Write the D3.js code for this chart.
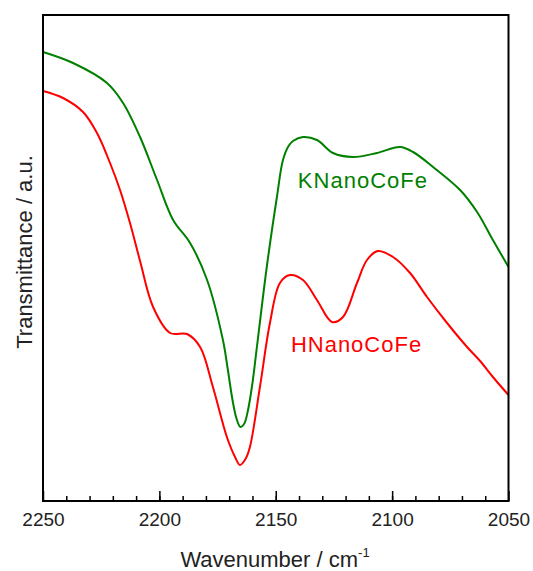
<!DOCTYPE html>
<html>
<head>
<meta charset="utf-8">
<script src="https://cdn.jsdelivr.net/npm/d3@7"></script>
<style>
  body { margin: 0; background: #fff; }
  svg { font-family: "Liberation Sans", Arial, sans-serif; }
</style>
</head>
<body>
<div id="graph-area"></div>
<script>
// wavenumber (cm-1) and transmittance (a.u.)
var kWave = [2250, 2237.1, 2222.5, 2215.6, 2208.3, 2201.0, 2194.1, 2186.8, 2179.5, 2172.7, 2170.5, 2168.5,
             2166.8, 2165.2, 2163.6, 2162.0, 2160.0, 2158.1, 2153.8, 2149.5, 2146.9, 2144.5, 2142.6, 2138.3,
             2132.3, 2125.4, 2116.8, 2106.5, 2096.6, 2091.0, 2082.4, 2070.8, 2063.5, 2056.7, 2050];
var kTrans = [449, 438, 418, 398, 364, 321, 281, 258, 221, 161, 130, 100,
              82, 74, 77, 90, 118, 154, 235, 304, 341, 355, 360, 364,
              361, 348, 344, 348, 354, 349, 334, 311, 289, 261, 234];

var hWave = [2250, 2241.4, 2232.8, 2226.8, 2221.2, 2216.9, 2212.5, 2208.3, 2202.7, 2195.4, 2188.1,
             2182.5, 2177.0, 2171.0, 2167.5, 2165.4, 2163.0, 2161.1, 2156.8, 2152.5, 2148.2, 2143.9, 2138.3,
             2132.3, 2125.8, 2121.1, 2115.1, 2110.8, 2106.1, 2099.6, 2092.3, 2085.0, 2076.4, 2067.8, 2062.2,
             2056.7, 2050];
var hTrans = [410, 403, 389, 368, 338, 311, 277, 240, 194, 168, 167,
              154, 114, 64, 44, 36, 42, 54, 114, 178, 218, 226, 221,
              201, 179, 184, 218, 241, 250, 244, 228, 204, 178, 154, 140,
              124, 106];

var xTicks = [2250, 2200, 2150, 2100, 2050];
var minorTicks = d3.range(2240, 2050, -10);

var width = 533, height = 571;
var margin = {top: 15, right: 24.5, bottom: 70, left: 43};
var w = width - margin.left - margin.right;
var h = height - margin.top - margin.bottom;

var svg = d3.select("#graph-area")
    .append("svg")
    .attr("width", width)
    .attr("height", height);

var g = svg.append("g")
    .attr("transform", "translate(" + margin.left + "," + margin.top + ")");

var x = d3.scaleLinear().domain([2250, 2050]).range([0, w]);
var y = d3.scaleLinear().domain([0, 486]).range([h, 0]);

// minor ticks
g.append("g")
    .attr("transform", "translate(0," + h + ")")
    .call(d3.axisBottom(x).tickValues(minorTicks).tickSize(-5).tickFormat(""))
    .call(function(a) { a.select(".domain").remove(); })
    .selectAll("line").attr("stroke", "#000").attr("stroke-width", 1.5);

// major ticks + labels
var xAxis = g.append("g")
    .attr("transform", "translate(0," + h + ")")
    .call(d3.axisBottom(x).tickValues(xTicks).tickSize(-10).tickPadding(12).tickFormat(d3.format("d")));
xAxis.select(".domain").remove();
xAxis.selectAll("line").attr("stroke", "#000").attr("stroke-width", 1.5);
xAxis.selectAll("text")
    .attr("fill", "#222")
    .style("font-size", "19px")
    .style("font-family", "'Liberation Sans', Arial, sans-serif");

var line = d3.line()
    .x(function(d) { return x(d[0]); })
    .y(function(d) { return y(d[1]); })
    .curve(d3.curveCatmullRom.alpha(0.5));

g.append("path")
    .datum(d3.zip(hWave, hTrans))
    .attr("d", line)
    .attr("fill", "none")
    .attr("stroke", "#ff0000")
    .attr("stroke-width", 2);

g.append("path")
    .datum(d3.zip(kWave, kTrans))
    .attr("d", line)
    .attr("fill", "none")
    .attr("stroke", "#008000")
    .attr("stroke-width", 2);

// frame
g.append("rect")
    .attr("x", 0).attr("y", 0)
    .attr("width", w).attr("height", h)
    .attr("fill", "none")
    .attr("stroke", "#000")
    .attr("stroke-width", 2);

g.append("text")
    .attr("x", x(2140.5))
    .attr("y", y(313))
    .attr("fill", "#008000")
    .attr("letter-spacing", 1)
    .style("font-size", "22px")
    .text("KNanoCoFe");

g.append("text")
    .attr("x", x(2143.5))
    .attr("y", y(149))
    .attr("fill", "#ff0000")
    .attr("letter-spacing", 1)
    .style("font-size", "22px")
    .text("HNanoCoFe");

// axis titles
var xt = svg.append("text")
    .attr("x", 275)
    .attr("y", 567)
    .attr("text-anchor", "middle")
    .attr("fill", "#222")
    .style("font-size", "22px");
xt.append("tspan").text("Wavenumber / cm");
xt.append("tspan").attr("dy", -10).style("font-size", "13px").text("-1");

svg.append("text")
    .attr("transform", "translate(32,252) rotate(-90)")
    .attr("text-anchor", "middle")
    .attr("fill", "#222")
    .style("font-size", "22px")
    .text("Transmittance / a.u.");
</script>
</body>
</html>
